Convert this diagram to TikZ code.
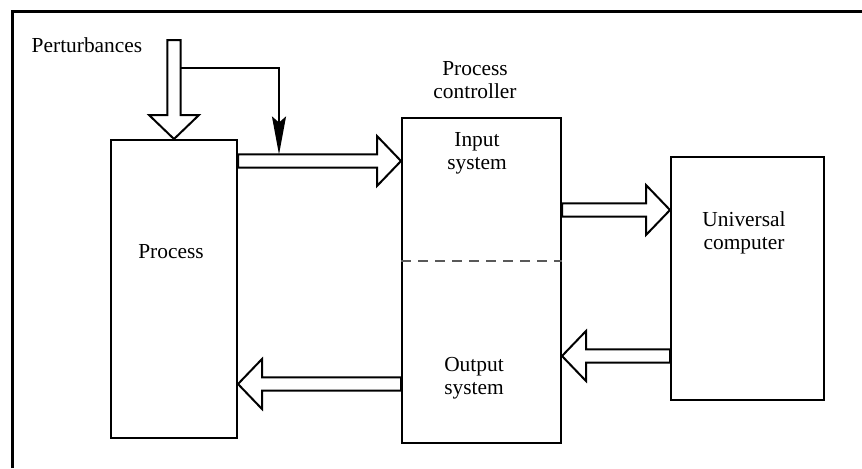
\documentclass[tikz,border=0pt]{standalone}
\usepackage{fontspec}
\setmainfont{Liberation Serif}
\usepackage{tikz}
\usetikzlibrary{arrows.meta,calc}
\tikzset{>={Stealth[length=19pt,width=7pt,inset=3pt]}}
\tikzset{
  blk/.style={draw,line width=1pt,inner sep=0pt},
  fat/.style={draw,fill=white,line width=1pt,line join=miter},
  lbl/.style={font=\fontsize{10.7}{11.4}\selectfont,align=center,inner sep=0pt}
}
\newcommand{\fatarrow}[2]{%
  \draw[fat] ($(#1)!3.3pt!90:(#2)$) -- ($(#2)!12pt!(#1)!3.3pt!90:(#2)$)
    -- ($(#2)!12pt!(#1)!12.5pt!90:(#2)$) -- (#2)
    -- ($(#2)!12pt!(#1)!12.5pt!-90:(#2)$) -- ($(#2)!12pt!(#1)!3.3pt!-90:(#2)$)
    -- ($(#1)!3.3pt!-90:(#2)$) -- cycle;
}
\newcommand{\frameit}{%
  \draw[line width=1.5pt] (12,468) -- (12,11) -- (862,11);
}

\begin{document}
\begin{tikzpicture}[x=0.5pt,y=-0.5pt]
\useasboundingbox (0,0) rectangle (862,468);
\frameit
\node[blk,minimum width=63pt,minimum height=149pt] (proc) at (174,289) {};
\node[blk,minimum width=79.5pt,minimum height=162.5pt] (ctrl) at (481.5,280.5) {};
\node[blk,minimum width=76.5pt,minimum height=121.5pt] (comp) at (747.5,278.5) {};
\draw[black!65,line width=0.6pt,dash pattern=on 5pt off 3.5pt]
  (ctrl.west |- 0,261) -- (ctrl.east |- 0,261);
% labels
\node[lbl,anchor=base] (pertlbl) at (87,52) {Perturbances};
\node[lbl,anchor=base] (proclbl) at (171,258) {Process};
\node[lbl] (ctrllbl) at (475,80) {Process\\controller};
\node[lbl] (inlbl) at (477,153.5) {Input\\system};
\node[lbl] (outlbl) at (474,378.5) {Output\\system};
\node[lbl] (complbl) at (744,233) {Universal\\computer};
% block arrows
\coordinate (pert) at (174,40);
\coordinate (a1) at (0,161);
\coordinate (a2) at (0,210);
\coordinate (a3) at (0,356);
\coordinate (a4) at (0,384);
\coordinate (p1) at (proc.east |- a1); \coordinate (c1) at (ctrl.west |- a1);
\coordinate (c2) at (ctrl.east |- a2); \coordinate (k2) at (comp.west |- a2);
\coordinate (k3) at (comp.west |- a3); \coordinate (c3) at (ctrl.east |- a3);
\coordinate (c4) at (ctrl.west |- a4); \coordinate (p4) at (proc.east |- a4);
\fatarrow{pert}{proc.north}
\fatarrow{p1}{c1}
\fatarrow{c2}{k2}
\fatarrow{k3}{c3}
\fatarrow{c4}{p4}
% branch of the perturbances
\coordinate (br) at (181,68);
\coordinate (tap) at (279,154.5);
\draw[line width=1pt,->] (br) -| (tap);
\end{tikzpicture}
\end{document}
